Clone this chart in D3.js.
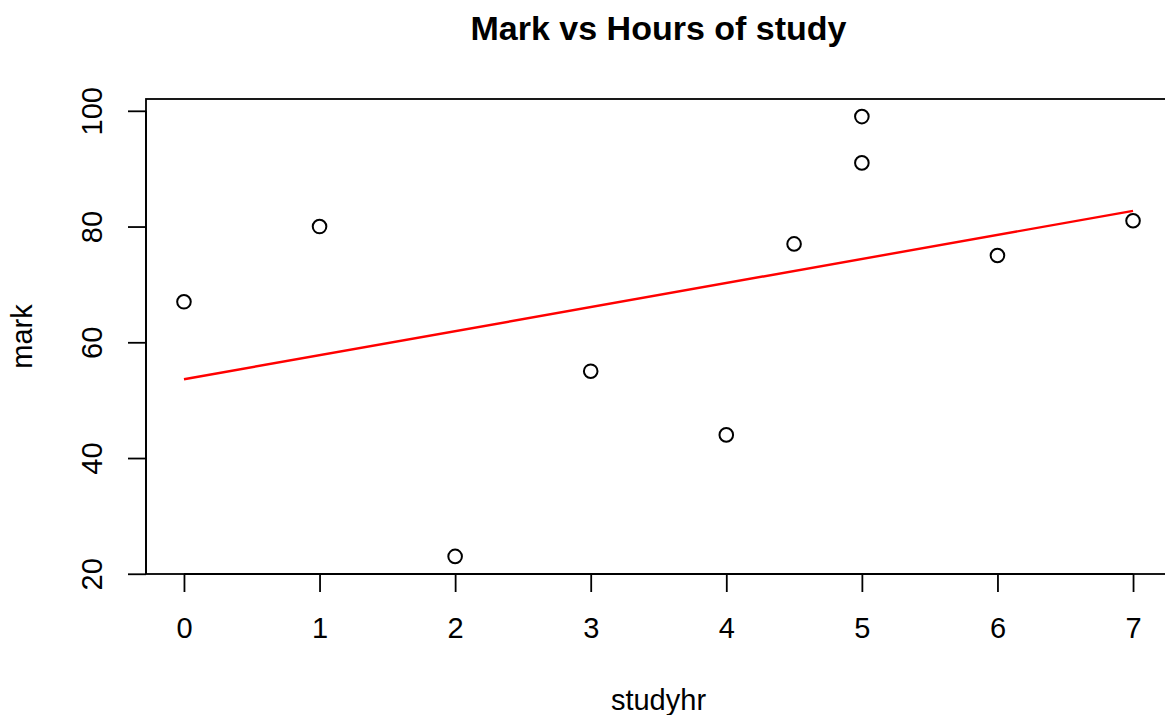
<!DOCTYPE html>
<html>
<head>
<meta charset="utf-8" />
<title>Mark vs Hours of study</title>
<script src="https://cdn.jsdelivr.net/npm/d3@7"></script>
<style>
html, body { margin: 0; background: #fff; }
svg { display: block; font-family: "Liberation Sans", Arial, sans-serif; }
</style>
</head>
<body>
<div id="chart"></div>
<script>
// data
var studyhr = [0, 1, 2, 3, 4, 4.5, 5, 5, 6, 7];
var mark = [67, 80, 23, 55, 44, 77, 99, 91, 75, 81];
var xTicks = [0, 1, 2, 3, 4, 5, 6, 7];
var yTicks = [20, 40, 60, 80, 100];

var W = 1165, H = 715;
var plot = { left: 146, right: 1171, top: 99, bottom: 574 };

var svg = d3.select("#chart").append("svg")
  .attr("width", W).attr("height", H);

// R style 4% padding of the data range
function pad(ext) { var d = (ext[1] - ext[0]) * 0.04; return [ext[0] - d, ext[1] + d]; }

var x = d3.scaleLinear().domain(pad(d3.extent(studyhr))).range([plot.left, plot.right]);
var y = d3.scaleLinear().domain(pad(d3.extent(mark))).range([plot.bottom, plot.top]);

// least squares fit, like lm(mark ~ studyhr)
var mx = d3.mean(studyhr), my = d3.mean(mark);
var sxy = d3.sum(studyhr, function(v, i) { return (v - mx) * (mark[i] - my); });
var sxx = d3.sum(studyhr, function(v) { return (v - mx) * (v - mx); });
var slope = sxy / sxx, icpt = my - slope * mx;

var line = d3.line().x(function(d) { return x(d); }).y(function(d) { return y(icpt + slope * d); });
svg.append("path")
  .datum(d3.extent(studyhr))
  .attr("d", line)
  .attr("fill", "none").attr("stroke", "#ff0000").attr("stroke-width", 2.4);

svg.selectAll("circle.pt")
  .data(studyhr)
  .enter().append("circle")
  .attr("class", "pt")
  .attr("cx", function(d) { return x(d); })
  .attr("cy", function(d, i) { return y(mark[i]); })
  .attr("r", 6.8)
  .attr("fill", "none").attr("stroke", "#000").attr("stroke-width", 2);

// box
svg.append("rect")
  .attr("x", plot.left).attr("y", plot.top)
  .attr("width", plot.right - plot.left).attr("height", plot.bottom - plot.top)
  .attr("fill", "none").attr("stroke", "#000").attr("stroke-width", 1.8);

// axes
var xAxis = d3.axisBottom(x).tickValues(xTicks).tickSize(18).tickFormat(d3.format("d"));
var gx = svg.append("g").attr("transform", "translate(0," + plot.bottom + ")").call(xAxis);
gx.select(".domain").attr("d", "M" + x(xTicks[0]) + ",0H" + x(xTicks[xTicks.length - 1]));

var yAxis = d3.axisLeft(y).tickValues(yTicks).tickSize(18).tickFormat(d3.format("d"));
var gy = svg.append("g").attr("transform", "translate(" + plot.left + ",0)").call(yAxis);
gy.select(".domain").attr("d", "M0," + y(yTicks[0]) + "V" + y(yTicks[yTicks.length - 1]));

svg.selectAll(".domain, .tick line").attr("stroke", "#000").attr("stroke-width", 1.8);
svg.selectAll(".tick text").attr("font-size", 29).attr("fill", "#000")
  .attr("font-family", "Liberation Sans, Arial, sans-serif");
gx.selectAll(".tick text").attr("dy", null).attr("y", 54).attr("dominant-baseline", "central");
gy.selectAll(".tick text")
  .attr("x", null).attr("dy", null)
  .attr("text-anchor", "middle").attr("dominant-baseline", "central")
  .attr("transform", "translate(-54,0) rotate(-90)");

// titles
var cx = (plot.left + plot.right) / 2;
svg.append("text").attr("x", cx).attr("y", 28)
  .attr("text-anchor", "middle").attr("dominant-baseline", "central")
  .attr("font-size", 34).attr("font-weight", "bold").text("Mark vs Hours of study");
svg.append("text").attr("x", cx).attr("y", 700)
  .attr("text-anchor", "middle").attr("dominant-baseline", "central")
  .attr("font-size", 29).text("studyhr");
svg.append("text")
  .attr("transform", "translate(22," + (plot.top + plot.bottom) / 2 + ") rotate(-90)")
  .attr("text-anchor", "middle").attr("dominant-baseline", "central")
  .attr("font-size", 29).text("mark");
</script>
</body>
</html>
